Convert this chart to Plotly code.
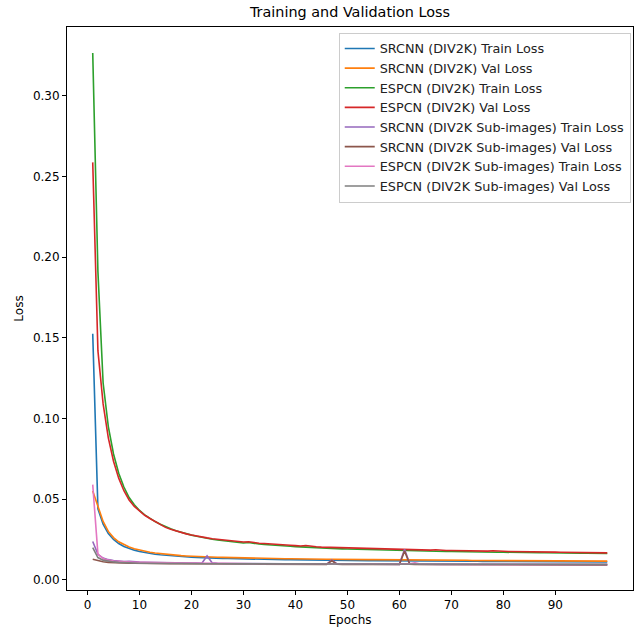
import plotly.graph_objects as go

epochs = list(range(1, 101))

srcnn_train = [
    0.1525, 0.0440, 0.0345, 0.0287, 0.0250, 0.0225, 0.0207, 0.0194, 0.0184, 0.0176,
    0.0169, 0.0164, 0.0159, 0.0155, 0.0152, 0.0149, 0.0146, 0.0144, 0.0142, 0.0140,
    0.0139, 0.0137, 0.0136, 0.0135, 0.0134, 0.0133, 0.0132, 0.0131, 0.0130, 0.0130,
    0.0129, 0.0128, 0.0128, 0.0127, 0.0127, 0.0126, 0.0126, 0.0125, 0.0125, 0.0124,
    0.0124, 0.0123, 0.0123, 0.0123, 0.0122, 0.0122, 0.0122, 0.0121, 0.0121, 0.0121,
    0.0120, 0.0120, 0.0120, 0.0119, 0.0119, 0.0119, 0.0119, 0.0118, 0.0118, 0.0118,
    0.0118, 0.0117, 0.0117, 0.0117, 0.0117, 0.0116, 0.0116, 0.0116, 0.0116, 0.0116,
    0.0115, 0.0115, 0.0115, 0.0115, 0.0115, 0.0114, 0.0114, 0.0114, 0.0114, 0.0114,
    0.0114, 0.0113, 0.0113, 0.0113, 0.0113, 0.0113, 0.0113, 0.0112, 0.0112, 0.0112,
    0.0112, 0.0112, 0.0112, 0.0112, 0.0111, 0.0111, 0.0111, 0.0111, 0.0111, 0.0111,
]
srcnn_val = [
    0.0550, 0.0455, 0.0362, 0.0300, 0.0262, 0.0236, 0.0217, 0.0203, 0.0192, 0.0184,
    0.0177, 0.0171, 0.0166, 0.0162, 0.0158, 0.0155, 0.0152, 0.0150, 0.0148, 0.0146,
    0.0145, 0.0143, 0.0142, 0.0141, 0.0140, 0.0139, 0.0138, 0.0137, 0.0136, 0.0136,
    0.0135, 0.0134, 0.0134, 0.0133, 0.0133, 0.0132, 0.0132, 0.0131, 0.0131, 0.0130,
    0.0130, 0.0129, 0.0129, 0.0129, 0.0128, 0.0128, 0.0128, 0.0127, 0.0127, 0.0127,
    0.0126, 0.0126, 0.0126, 0.0125, 0.0125, 0.0125, 0.0124, 0.0124, 0.0124, 0.0124,
    0.0123, 0.0123, 0.0123, 0.0123, 0.0122, 0.0122, 0.0122, 0.0122, 0.0121, 0.0121,
    0.0121, 0.0121, 0.0121, 0.0120, 0.0120, 0.0120, 0.0120, 0.0120, 0.0119, 0.0119,
    0.0119, 0.0119, 0.0119, 0.0118, 0.0118, 0.0118, 0.0118, 0.0118, 0.0118, 0.0117,
    0.0117, 0.0117, 0.0117, 0.0117, 0.0117, 0.0116, 0.0116, 0.0116, 0.0116, 0.0116,
]
espcn_train = [
    0.3265, 0.1910, 0.1220, 0.0950, 0.0780, 0.0660, 0.0575, 0.0510, 0.0465, 0.0430,
    0.0403, 0.0381, 0.0361, 0.0344, 0.0329, 0.0316, 0.0304, 0.0294, 0.0285, 0.0277,
    0.0270, 0.0263, 0.0257, 0.0252, 0.0247, 0.0243, 0.0239, 0.0236, 0.0233, 0.0228,
    0.0231, 0.0225, 0.0222, 0.0219, 0.0216, 0.0214, 0.0212, 0.0210, 0.0208, 0.0206,
    0.0204, 0.0203, 0.0201, 0.0199, 0.0198, 0.0196, 0.0195, 0.0194, 0.0192, 0.0191,
    0.0190, 0.0189, 0.0188, 0.0187, 0.0186, 0.0185, 0.0184, 0.0184, 0.0183, 0.0182,
    0.0181, 0.0181, 0.0180, 0.0179, 0.0179, 0.0178, 0.0177, 0.0177, 0.0176, 0.0176,
    0.0175, 0.0175, 0.0174, 0.0174, 0.0173, 0.0173, 0.0172, 0.0172, 0.0171, 0.0171,
    0.0170, 0.0170, 0.0170, 0.0169, 0.0169, 0.0168, 0.0168, 0.0168, 0.0167, 0.0167,
    0.0166, 0.0166, 0.0166, 0.0165, 0.0165, 0.0165, 0.0164, 0.0164, 0.0164, 0.0163,
]
espcn_val = [
    0.2587, 0.1420, 0.1090, 0.0880, 0.0735, 0.0630, 0.0552, 0.0495, 0.0455, 0.0425,
    0.0400, 0.0380, 0.0362, 0.0343, 0.0325, 0.0313, 0.0302, 0.0293, 0.0285, 0.0278,
    0.0271, 0.0265, 0.0260, 0.0255, 0.0251, 0.0247, 0.0243, 0.0240, 0.0237, 0.0234,
    0.0236, 0.0230, 0.0227, 0.0225, 0.0222, 0.0220, 0.0218, 0.0216, 0.0214, 0.0212,
    0.0210, 0.0213, 0.0207, 0.0205, 0.0203, 0.0202, 0.0200, 0.0199, 0.0198, 0.0197,
    0.0196, 0.0195, 0.0194, 0.0193, 0.0192, 0.0191, 0.0190, 0.0190, 0.0189, 0.0188,
    0.0187, 0.0187, 0.0186, 0.0185, 0.0185, 0.0184, 0.0186, 0.0183, 0.0182, 0.0182,
    0.0181, 0.0181, 0.0180, 0.0180, 0.0179, 0.0179, 0.0178, 0.0180, 0.0177, 0.0177,
    0.0176, 0.0176, 0.0175, 0.0175, 0.0174, 0.0176, 0.0173, 0.0173, 0.0172, 0.0172,
    0.0171, 0.0171, 0.0170, 0.0170, 0.0169, 0.0169, 0.0169, 0.0168, 0.0168, 0.0167,
]
srcnn_sub_train = [
    0.0238, 0.0158, 0.0135, 0.0125, 0.0120, 0.0116, 0.0114, 0.0115, 0.0111, 0.0110,
    0.0109, 0.0108, 0.0108, 0.0107, 0.0106, 0.0106, 0.0105, 0.0105, 0.0104, 0.0104,
    0.0104, 0.0103, 0.0148, 0.0105, 0.0103, 0.0102, 0.0102, 0.0102, 0.0101, 0.0101,
    0.0101, 0.0101, 0.0100, 0.0100, 0.0100, 0.0100, 0.0100, 0.0099, 0.0099, 0.0099,
    0.0099, 0.0099, 0.0099, 0.0098, 0.0098, 0.0098, 0.0123, 0.0099, 0.0098, 0.0098,
    0.0098, 0.0097, 0.0097, 0.0097, 0.0097, 0.0097, 0.0097, 0.0097, 0.0096, 0.0096,
    0.0190, 0.0100, 0.0097, 0.0096, 0.0096, 0.0096, 0.0096, 0.0096, 0.0096, 0.0095,
    0.0095, 0.0095, 0.0095, 0.0095, 0.0095, 0.0095, 0.0095, 0.0095, 0.0095, 0.0095,
    0.0095, 0.0094, 0.0094, 0.0094, 0.0094, 0.0094, 0.0094, 0.0094, 0.0094, 0.0094,
    0.0094, 0.0094, 0.0094, 0.0094, 0.0094, 0.0094, 0.0094, 0.0094, 0.0094, 0.0094,
]
srcnn_sub_val = [
    0.0128, 0.0118, 0.0112, 0.0108, 0.0106, 0.0105, 0.0104, 0.0103, 0.0103, 0.0102,
    0.0102, 0.0101, 0.0101, 0.0101, 0.0100, 0.0100, 0.0100, 0.0100, 0.0099, 0.0099,
    0.0099, 0.0099, 0.0102, 0.0099, 0.0099, 0.0098, 0.0098, 0.0098, 0.0098, 0.0098,
    0.0098, 0.0098, 0.0097, 0.0097, 0.0097, 0.0097, 0.0097, 0.0097, 0.0097, 0.0097,
    0.0097, 0.0096, 0.0096, 0.0096, 0.0096, 0.0096, 0.0118, 0.0097, 0.0096, 0.0096,
    0.0096, 0.0096, 0.0096, 0.0095, 0.0095, 0.0095, 0.0095, 0.0095, 0.0095, 0.0095,
    0.0178, 0.0097, 0.0095, 0.0095, 0.0095, 0.0095, 0.0095, 0.0094, 0.0094, 0.0094,
    0.0094, 0.0094, 0.0094, 0.0094, 0.0094, 0.0094, 0.0094, 0.0094, 0.0094, 0.0094,
    0.0094, 0.0094, 0.0093, 0.0093, 0.0093, 0.0093, 0.0093, 0.0093, 0.0093, 0.0093,
    0.0093, 0.0093, 0.0093, 0.0093, 0.0093, 0.0093, 0.0093, 0.0093, 0.0093, 0.0093,
]
espcn_sub_train = [
    0.0590, 0.0160, 0.0132, 0.0122, 0.0117, 0.0114, 0.0112, 0.0110, 0.0109, 0.0108,
    0.0107, 0.0107, 0.0106, 0.0106, 0.0105, 0.0105, 0.0104, 0.0104, 0.0104, 0.0103,
    0.0103, 0.0103, 0.0102, 0.0102, 0.0102, 0.0102, 0.0101, 0.0101, 0.0101, 0.0101,
    0.0101, 0.0100, 0.0100, 0.0100, 0.0100, 0.0100, 0.0100, 0.0100, 0.0099, 0.0099,
    0.0099, 0.0099, 0.0099, 0.0099, 0.0099, 0.0099, 0.0099, 0.0098, 0.0098, 0.0098,
    0.0098, 0.0098, 0.0098, 0.0098, 0.0098, 0.0098, 0.0098, 0.0098, 0.0097, 0.0097,
    0.0097, 0.0099, 0.0106, 0.0098, 0.0097, 0.0097, 0.0097, 0.0097, 0.0097, 0.0097,
    0.0097, 0.0097, 0.0097, 0.0096, 0.0096, 0.0096, 0.0096, 0.0096, 0.0096, 0.0096,
    0.0096, 0.0096, 0.0096, 0.0096, 0.0096, 0.0096, 0.0096, 0.0096, 0.0095, 0.0095,
    0.0095, 0.0095, 0.0095, 0.0095, 0.0095, 0.0095, 0.0095, 0.0095, 0.0095, 0.0095,
]
espcn_sub_val = [
    0.0200, 0.0138, 0.0122, 0.0115, 0.0111, 0.0108, 0.0106, 0.0105, 0.0104, 0.0103,
    0.0103, 0.0102, 0.0102, 0.0102, 0.0101, 0.0101, 0.0101, 0.0101, 0.0100, 0.0100,
    0.0100, 0.0100, 0.0100, 0.0100, 0.0099, 0.0099, 0.0099, 0.0099, 0.0099, 0.0099,
    0.0099, 0.0099, 0.0099, 0.0098, 0.0098, 0.0098, 0.0098, 0.0098, 0.0098, 0.0098,
    0.0098, 0.0098, 0.0098, 0.0098, 0.0098, 0.0097, 0.0097, 0.0097, 0.0097, 0.0097,
    0.0097, 0.0097, 0.0097, 0.0097, 0.0097, 0.0097, 0.0097, 0.0097, 0.0097, 0.0097,
    0.0097, 0.0097, 0.0097, 0.0097, 0.0096, 0.0096, 0.0096, 0.0096, 0.0096, 0.0096,
    0.0096, 0.0096, 0.0096, 0.0096, 0.0096, 0.0096, 0.0096, 0.0096, 0.0096, 0.0096,
    0.0096, 0.0096, 0.0096, 0.0096, 0.0096, 0.0096, 0.0096, 0.0096, 0.0096, 0.0096,
    0.0096, 0.0096, 0.0096, 0.0096, 0.0096, 0.0096, 0.0096, 0.0096, 0.0096, 0.0096,
]

series = [
    ("SRCNN (DIV2K) Train Loss", srcnn_train, "#1f77b4"),
    ("SRCNN (DIV2K) Val Loss", srcnn_val, "#ff7f0e"),
    ("ESPCN (DIV2K) Train Loss", espcn_train, "#2ca02c"),
    ("ESPCN (DIV2K) Val Loss", espcn_val, "#d62728"),
    ("SRCNN (DIV2K Sub-images) Train Loss", srcnn_sub_train, "#9467bd"),
    ("SRCNN (DIV2K Sub-images) Val Loss", srcnn_sub_val, "#8c564b"),
    ("ESPCN (DIV2K Sub-images) Train Loss", espcn_sub_train, "#e377c2"),
    ("ESPCN (DIV2K Sub-images) Val Loss", espcn_sub_val, "#7f7f7f"),
]

x_ticks = [0, 10, 20, 30, 40, 50, 60, 70, 80, 90]
y_ticks = [0.00, 0.05, 0.10, 0.15, 0.20, 0.25, 0.30]

fig = go.Figure()
for name, vals, color in series:
    fig.add_trace(go.Scatter(x=epochs, y=vals, mode="lines", name=name,
                             line=dict(color=color, width=1.6)))

axis_common = dict(showline=True, mirror=True, linecolor="black", linewidth=1,
                   ticks="outside", ticklen=4, tickcolor="black", showgrid=False,
                   zeroline=False, tickfont=dict(size=12, color="black"))

fig.update_layout(
    width=644, height=635,
    margin=dict(l=67, r=10, t=27, b=42),
    paper_bgcolor="white", plot_bgcolor="white",
    font=dict(family="DejaVu Sans", size=12, color="black"),
    title=dict(text="Training and Validation Loss", x=0.5, xref="paper",
               y=1, yref="container", yanchor="top", pad=dict(t=7),
               font=dict(size=14.4, color="black")),
    xaxis=dict(range=[-3.95, 104.95], tickvals=x_ticks,
               title=dict(text="Epochs", font=dict(size=12), standoff=4), **axis_common),
    yaxis=dict(range=[-0.0063, 0.3426], tickvals=y_ticks, tickformat=".2f",
               title=dict(text="Loss", font=dict(size=12), standoff=6), **axis_common),
    legend=dict(x=0.996, xanchor="right", y=0.99, yanchor="top",
                bgcolor="rgba(255,255,255,0.8)", bordercolor="#cccccc", borderwidth=1,
                font=dict(size=12.8, color="#222222"), tracegroupgap=0),
    showlegend=True,
)

fig.write_html("out.html")
